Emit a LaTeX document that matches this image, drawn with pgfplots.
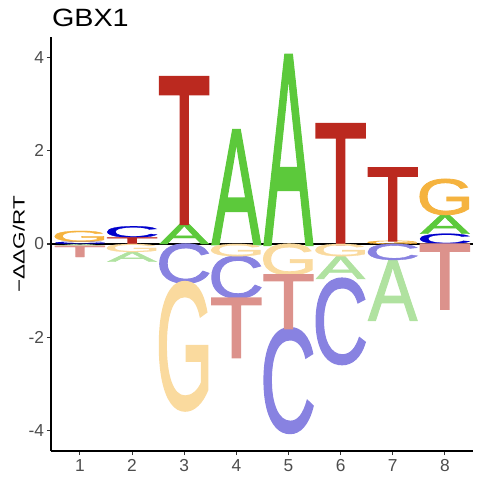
\documentclass[border=0pt]{standalone}
\usepackage{pgfplots}
\pgfplotsset{compat=1.18}
\usepackage{pgfplotstable}
\usepackage{graphicx}
\usepackage{fontspec}
\setmainfont{Liberation Sans}
\newfontfamily\logofont{Liberation Sans}[FakeBold=1.5]

\definecolor{Ad}{HTML}{5CC93B}
\definecolor{Cd}{HTML}{0000CC}
\definecolor{Gd}{HTML}{F5B33F}
\definecolor{Td}{HTML}{BB291F}
\definecolor{Al}{HTML}{B0E2A0}
\definecolor{Cl}{HTML}{8882E1}
\definecolor{Gl}{HTML}{FADA9E}
\definecolor{Tl}{HTML}{DC928C}
\definecolor{ticktext}{HTML}{4D4D4D}
\definecolor{tickmark}{HTML}{333333}

\newdimen\yunit \yunit=34.966pt
\newdimen\lw \lw=36.75pt
\newcommand\LA{{\logofont A}}
\newcommand\LC{{\logofont\kern-0.05em C\kern-0.04em}}
\newcommand\LG{{\logofont\kern-0.055em G\kern-0.064em}}
\newcommand\LT{{\logofont\kern-0.023em T\kern-0.024em}}

% x = position, lo/hi = extent of the letter on the y axis
\pgfplotstableread{
x lo hi
3 0 0.44
4 0 2.44
5 0 4.04
8 0.22 0.63
}\Apos
\pgfplotstableread{
x lo hi
1 0 0.05
2 0.14 0.38
8 0 0.22
}\Cpos
\pgfplotstableread{
x lo hi
1 0.05 0.28
7 0 0.07
8 0.63 1.39
}\Gpos
\pgfplotstableread{
x lo hi
2 0 0.14
3 0.44 3.57
6 0 2.57
7 0.07 1.63
}\Tpos
\pgfplotstableread{
x lo hi
1 0 -0.04
2 -0.17 -0.38
6 -0.26 -0.75
7 -0.34 -1.64
}\Aneg
\pgfplotstableread{
x lo hi
3 0 -0.84
4 -0.26 -1.16
5 -1.82 -4.04
6 -0.75 -2.57
7 0 -0.34
}\Cneg
\pgfplotstableread{
x lo hi
2 0 -0.17
3 -0.84 -3.55
4 0 -0.26
5 0 -0.66
6 0 -0.26
}\Gneg
\pgfplotstableread{
x lo hi
1 -0.04 -0.28
4 -1.16 -2.44
5 -0.66 -1.82
8 0 -1.40
}\Tneg

\pgfplotsset{
  logo/.style n args={2}{draw=none, mark=none, forget plot,
    visualization depends on={abs(\thisrow{hi}-\thisrow{lo}) \as \hval},
    nodes near coords={\makebox[0pt]{\smash{\raisebox{\dimexpr0.5\depth-0.5\height\relax}{\resizebox{\lw}{\hval\yunit}{#1}}}}},
    every node near coord/.style={inner sep=0pt, outer sep=0pt, anchor=center, text=#2},
  },
}

\begin{document}
\begin{tikzpicture}
\begin{axis}[
  at={(38.25pt,21.75pt)}, anchor=south west,
  scale only axis, width=316.5pt, height=310.5pt,
  xmin=0.445, xmax=8.54, ymin=-4.44, ymax=4.44,
  axis lines=left, axis line style={-, line width=1.5pt, black},
  clip=false,
  xtick={1,2,3,4,5,6,7,8},
  ytick={-4,-2,0,2,4}, yticklabels={-4,-2,0,2,4},
  tick align=outside, major tick length=3pt,
  tick style={line width=0.8pt, color=tickmark},
  ticklabel style={font=\fontsize{13pt}{13pt}\selectfont, text=ticktext},
  yticklabel style={inner sep=0pt, xshift=-2pt},
  xticklabel style={inner sep=0pt, yshift=-3pt},
  /pgf/number format/assume math mode=true,
]
\addplot[logo={\LA}{Ad}] table[x=x, y expr={(\thisrow{lo}+\thisrow{hi})/2}] {\Apos};
\addplot[logo={\LC}{Cd}] table[x=x, y expr={(\thisrow{lo}+\thisrow{hi})/2}] {\Cpos};
\addplot[logo={\LG}{Gd}] table[x=x, y expr={(\thisrow{lo}+\thisrow{hi})/2}] {\Gpos};
\addplot[logo={\LT}{Td}] table[x=x, y expr={(\thisrow{lo}+\thisrow{hi})/2}] {\Tpos};
\addplot[logo={\LA}{Al}] table[x=x, y expr={(\thisrow{lo}+\thisrow{hi})/2}] {\Aneg};
\addplot[logo={\LC}{Cl}] table[x=x, y expr={(\thisrow{lo}+\thisrow{hi})/2}] {\Cneg};
\addplot[logo={\LG}{Gl}] table[x=x, y expr={(\thisrow{lo}+\thisrow{hi})/2}] {\Gneg};
\addplot[logo={\LT}{Tl}] table[x=x, y expr={(\thisrow{lo}+\thisrow{hi})/2}] {\Tneg};
\addplot[black, line width=0.9pt, mark=none, forget plot] coordinates {(0.445,0) (8.54,0)};
\end{axis}
\node[anchor=base west, inner sep=0pt] at (38.8pt,340pt) {\fontsize{18.75pt}{20pt}\selectfont\scalebox{1.15}[1]{GBX1}};
\node[rotate=90, inner sep=0pt] at (14.2pt,177pt) {\fontsize{12.2pt}{13pt}\selectfont\scalebox{1.38}[1]{−ΔΔG/RT}};
\pgfresetboundingbox
\path[use as bounding box] (0,0) rectangle (360pt,360pt);
\end{tikzpicture}
\end{document}
